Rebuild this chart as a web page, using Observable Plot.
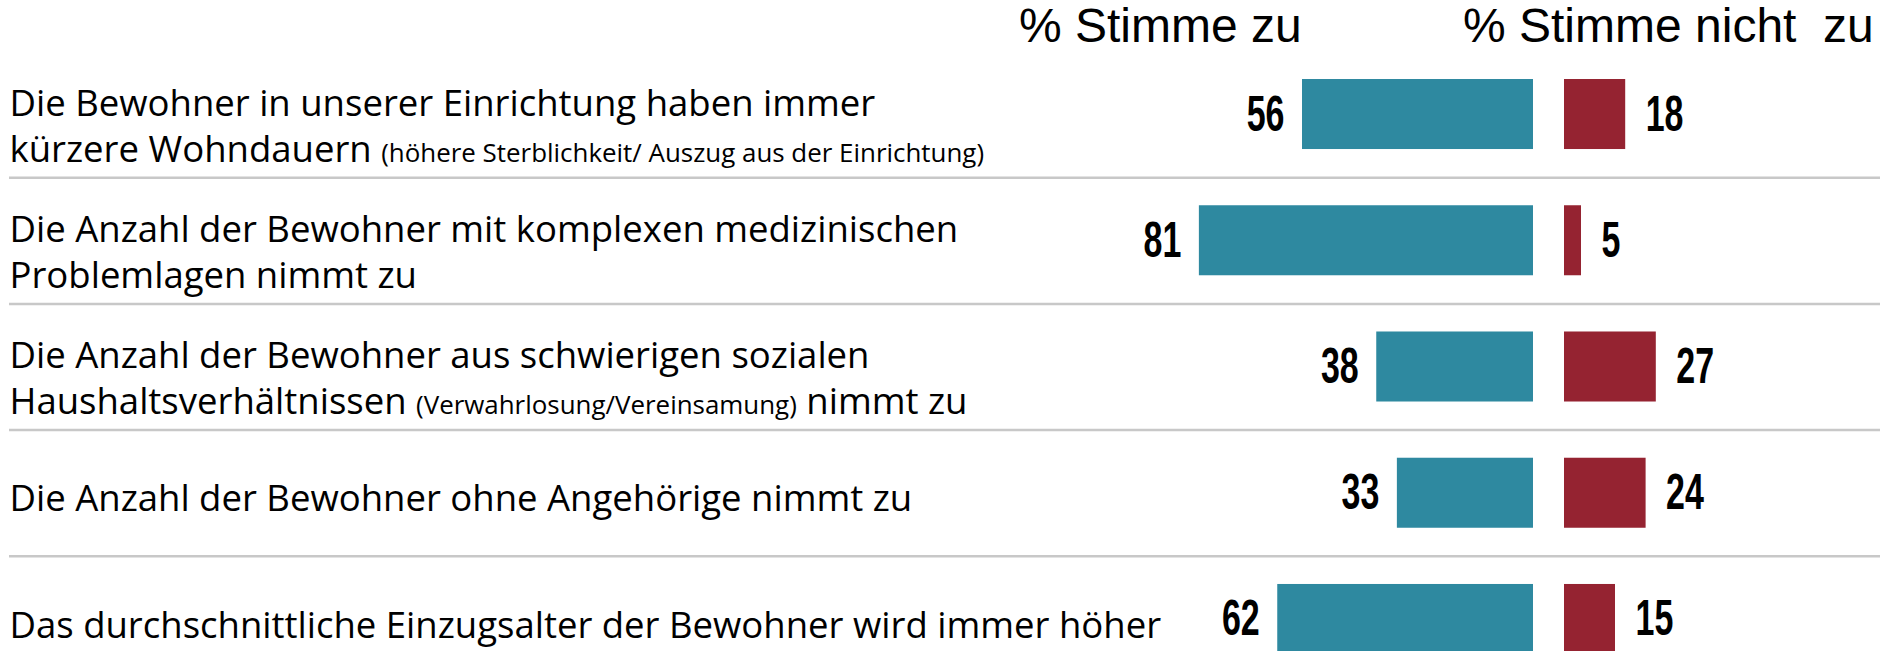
<!DOCTYPE html>
<html><head><meta charset="utf-8">
<script src="https://cdn.jsdelivr.net/npm/d3@7"></script>
<script src="https://cdn.jsdelivr.net/npm/@observablehq/plot@0.6"></script>
<style>
html,body{margin:0;padding:0;background:#fff;}
#wrap{position:relative;width:1889px;height:651px;overflow:hidden;background:#fff;}
#wrap svg{position:absolute;left:0;top:0;}
.hdr{position:absolute;top:2px;font-family:"Liberation Sans",Arial,sans-serif;font-size:48px;line-height:1;white-space:pre;color:#000;}
</style></head><body>
<div id="wrap"></div>
<script>
// ---- data ----
const statements = [
  "Die Bewohner in unserer Einrichtung haben immer\nkürzere Wohndauern (höhere Sterblichkeit/ Auszug aus der Einrichtung)",
  "Die Anzahl der Bewohner mit komplexen medizinischen\nProblemlagen nimmt zu",
  "Die Anzahl der Bewohner aus schwierigen sozialen\nHaushaltsverhältnissen (Verwahrlosung/Vereinsamung) nimmt zu",
  "Die Anzahl der Bewohner ohne Angehörige nimmt zu",
  "Das durchschnittliche Einzugsalter der Bewohner wird immer höher"
];
const agree = [56, 81, 38, 33, 62];
const disagree = [18, 5, 27, 24, 15];
const headers = ["% Stimme zu", "% Stimme nicht  zu"];

// ---- table ----
const rows = statements.map((s, i) => ({
  i, statement: s, lines: s.split("\n").length, agree: agree[i], disagree: disagree[i]
}));

const W = 1889, H = 651;
const TEAL = "#2e89a0", RED = "#952331", SEP = "#c8c8c8";
const half = 0.2773;
const yScale = {domain: [-0.5, 4.5], range: [50.9, 682.1], axis: null};
const labelFont = '"Open Sans", "Noto Sans", sans-serif';
const numFont = '"Liberation Sans", Arial, sans-serif';
const LF = 36.5, LH = 46 / 36.5;
const NF = 50;

const labelOpts = {
  y: "i", text: "statement", frameAnchor: "left", textAnchor: "start",
  lineAnchor: "middle", lineHeight: LH, fontSize: LF, fontFamily: labelFont,
  fill: "#000"
};
const numOpts = {y: "i", dy: 0, fontFamily: numFont, fontWeight: "bold", fontSize: NF, fill: "#000"};

const left = Plot.plot({
  width: W, height: H, margin: 0, marginLeft: 9, marginRight: 9,
  x: {domain: [0, 100], range: [1533, 1120.5], axis: null},
  y: yScale,
  style: {background: "transparent", overflow: "visible"},
  marks: [
    Plot.ruleY(rows.slice(0, -1), {y: d => d.i + 0.5, stroke: SEP, strokeWidth: 2.5}),
    Plot.rect(rows, {x1: d => 0, x2: "agree", y1: d => d.i - half, y2: d => d.i + half, fill: TEAL}),
    Plot.text(rows, {...numOpts, x: "agree", text: d => String(d.agree), textAnchor: "end", dx: -18}),
    Plot.text(rows.filter(d => d.lines > 1), {...labelOpts, dy: 9.3}),
    Plot.text(rows.filter(d => d.lines === 1), {...labelOpts, dy: 3.3})
  ]
});

const right = Plot.plot({
  width: W, height: H, margin: 0,
  x: {domain: [0, 100], range: [1564, 1904], axis: null},
  y: yScale,
  style: {background: "transparent", overflow: "visible"},
  marks: [
    Plot.rect(rows, {x1: d => 0, x2: "disagree", y1: d => d.i - half, y2: d => d.i + half, fill: RED}),
    Plot.text(rows, {...numOpts, x: "disagree", text: d => String(d.disagree), textAnchor: "start", dx: 20})
  ]
});

// smaller font for parenthetical remarks inside the statements
function smallParens(node) {
  const s = node.textContent;
  const m = s.match(/^(.*?)(\([^)]*\))(.*)$/);
  if (!m) return;
  node.textContent = "";
  node.appendChild(document.createTextNode(m[1]));
  const t = document.createElementNS("http://www.w3.org/2000/svg", "tspan");
  t.setAttribute("font-size", "0.71em");
  t.textContent = m[2];
  node.appendChild(t);
  if (m[3]) node.appendChild(document.createTextNode(m[3]));
}
left.querySelectorAll("text").forEach(txt => {
  if (!txt.textContent.includes("(")) return;
  const spans = txt.querySelectorAll("tspan");
  if (spans.length) spans.forEach(smallParens); else smallParens(txt);
});
// condensed look for the bold value labels
[left, right].forEach(svg => svg.querySelectorAll("text").forEach(txt => {
  if (/^\d+$/.test(txt.textContent)) {
    const tr = txt.getAttribute("transform") || "";
    txt.setAttribute("transform", tr + " scale(0.68,1)");
  }
}));

const wrap = document.getElementById("wrap");
wrap.appendChild(left);
wrap.appendChild(right);
const hdrLeft = [1019, 1463];
headers.forEach((h, k) => {
  const d = document.createElement("div");
  d.className = "hdr";
  d.style.left = hdrLeft[k] + "px";
  d.textContent = h;
  wrap.appendChild(d);
});
</script>
</body></html>
